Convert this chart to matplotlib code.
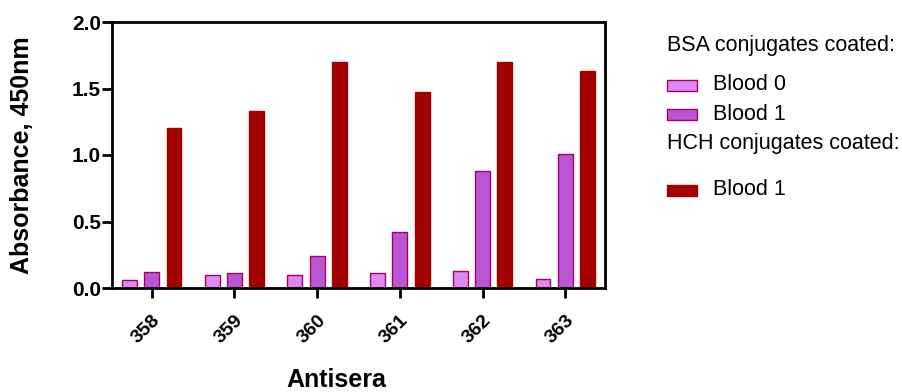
import matplotlib
matplotlib.use("Agg")
import matplotlib.pyplot as plt
from matplotlib.patches import Rectangle
from matplotlib.transforms import ScaledTranslation
import numpy as np

plt.rcParams['font.family'] = ['Liberation Sans', 'DejaVu Sans']

antisera = ["358", "359", "360", "361", "362", "363"]
bsa_blood0 = [0.06, 0.10, 0.10, 0.11, 0.13, 0.07]
bsa_blood1 = [0.12, 0.11, 0.24, 0.42, 0.88, 1.01]
hch_blood1 = [1.20, 1.33, 1.70, 1.47, 1.70, 1.63]
yticks = [0.0, 0.5, 1.0, 1.5, 2.0]

c_b0 = "#DE88F2"
c_b1 = "#BA55D6"
c_hch = "#A30000"
edge = "#A8005E"

W, H = 903, 392
fig = plt.figure(figsize=(W/100, H/100), dpi=100)
ax = fig.add_axes([112/W, 1-288/H, (605-112)/W, (288-22)/H])

x = np.arange(len(antisera))
bw = 0.18
off = 0.27
ax.bar(x - off, bsa_blood0, bw, color=c_b0, edgecolor=edge, linewidth=1)
ax.bar(x, bsa_blood1, bw, color=c_b1, edgecolor=edge, linewidth=1)
ax.bar(x + off, hch_blood1, bw, color=c_hch, edgecolor=c_hch, linewidth=1)

ax.set_xlim(-0.48, 5.48)
ax.set_ylim(0, 2.0)
ax.set_yticks(yticks)
ax.set_yticklabels([f"{v:.1f}" for v in yticks], fontsize=15, fontweight='bold')
ax.set_xticks(x)
ax.set_xticklabels(antisera, fontsize=14, fontweight='bold', rotation=45,
                   ha='right', va='top', rotation_mode='anchor')
shift = ScaledTranslation(6/100, 0, fig.dpi_scale_trans)
for lab in ax.get_xticklabels():
    lab.set_transform(lab.get_transform() + shift)
for s in ax.spines.values():
    s.set_linewidth(2)
ax.tick_params(axis='both', width=2, length=7, direction='out')
ax.tick_params(axis='x', pad=10)
ax.tick_params(axis='y', pad=1)

fig.text(22/W, 1-155/H, "Absorbance, 450nm", fontsize=18, fontweight='bold',
         rotation=90, ha='center', va='center')
fig.text(336/W, 1-380/H, "Antisera", fontsize=18, fontweight='bold',
         ha='center', va='center')

# legend
def ftxt(px, py, s):
    fig.text(px/W, 1-py/H, s, fontsize=15.5, ha='left', va='center')

def fpatch(py, fc, ec):
    fig.patches.append(Rectangle((667/W, 1-(py+5.5)/H), 30/W, 11/H,
                                 facecolor=fc, edgecolor=ec, linewidth=1,
                                 transform=fig.transFigure))

ftxt(667, 45, "BSA conjugates coated:")
fpatch(85, c_b0, edge)
ftxt(713, 85, "Blood 0")
fpatch(114, c_b1, edge)
ftxt(713, 114, "Blood 1")
ftxt(667, 143, "HCH conjugates coated:")
fpatch(190, c_hch, c_hch)
ftxt(713, 190, "Blood 1")

fig.savefig("out.png", dpi=100)
